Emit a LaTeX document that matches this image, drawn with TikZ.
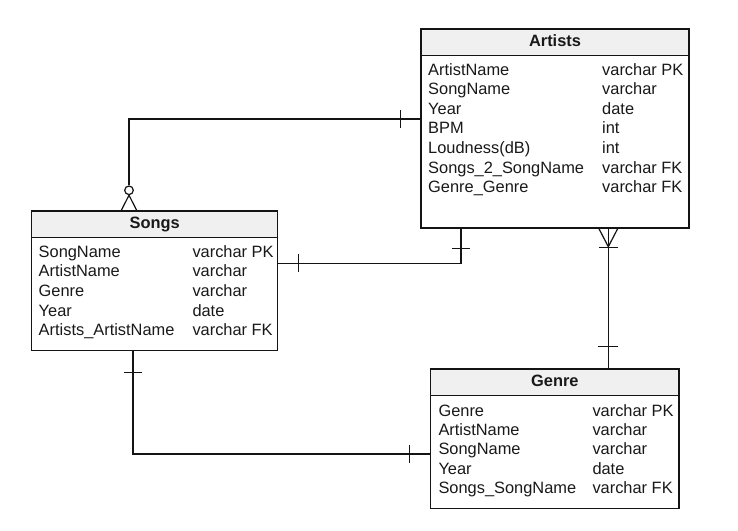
\documentclass[tikz,border=0pt]{standalone}
\usepackage{fontspec}
\setmainfont{Liberation Sans}
\usetikzlibrary{calc}
\definecolor{hdr}{RGB}{240,240,240}
\definecolor{ln}{RGB}{20,20,20}
\definecolor{txt}{RGB}{25,25,25}
\begin{document}
\begin{tikzpicture}[x=1pt,y=-1pt,
  tbl/.style={draw=ln, line width=1.3pt, rectangle, inner sep=0pt,
    path picture={
      \fill[hdr] (path picture bounding box.north west) rectangle ([yshift=-#1]path picture bounding box.north east);
      \draw[ln, line width=1.3pt] ([yshift=-#1]path picture bounding box.north west) -- ([yshift=-#1]path picture bounding box.north east);
    }},
  hdrtext/.style={font=\fontsize{16.4}{19.6}\selectfont\bfseries, anchor=base, inner sep=0pt, text=txt},
  fld/.style={font=\fontsize{16.4}{19.6}\selectfont, anchor=base west, inner sep=0pt, text=txt},
  conn/.style={draw=ln, line width=1.2pt},
]
\useasboundingbox[fill=white] (0,0) rectangle (738,530);

% tables
\node[tbl=26.5pt, minimum width=268pt, minimum height=199pt] (artists) at (555,128.6) {};
\node[tbl=26.7pt, minimum width=246pt, minimum height=139.5pt] (songs) at (154.7,280.75) {};
\node[tbl=26.7pt, minimum width=248.3pt, minimum height=139.3pt] (genre) at (554.85,438.65) {};

% Artists
\node[hdrtext] (ah) at (555,46.2) {Artists};
\node[fld] (af1) at (428,75) {ArtistName};        \node[fld] (at1) at (602,75) {varchar PK};
\node[fld] (af2) at (428,94.6) {SongName};        \node[fld] (at2) at (602,94.6) {varchar};
\node[fld] (af3) at (428,114.2) {Year};           \node[fld] (at3) at (602,114.2) {date};
\node[fld] (af4) at (428,133.8) {BPM};            \node[fld] (at4) at (602,133.8) {int};
\node[fld] (af5) at (428,153.4) {Loudness(dB)};   \node[fld] (at5) at (602,153.4) {int};
\node[fld] (af6) at (428,173) {Songs\_2\_SongName}; \node[fld] (at6) at (602,173) {varchar FK};
\node[fld] (af7) at (428,192.6) {Genre\_Genre};   \node[fld] (at7) at (602,192.6) {varchar FK};

% Songs
\node[hdrtext] (sh) at (154.7,228.3) {Songs};
\node[fld] (sf1) at (38.5,257.3) {SongName};      \node[fld] (st1) at (192.3,257.3) {varchar PK};
\node[fld] (sf2) at (38.5,276.9) {ArtistName};    \node[fld] (st2) at (192.3,276.9) {varchar};
\node[fld] (sf3) at (38.5,296.5) {Genre};         \node[fld] (st3) at (192.3,296.5) {varchar};
\node[fld] (sf4) at (38.5,316.1) {Year};          \node[fld] (st4) at (192.3,316.1) {date};
\node[fld] (sf5) at (38.5,335.7) {Artists\_ArtistName}; \node[fld] (st5) at (192.3,335.7) {varchar FK};

% Genre
\node[hdrtext] (gh) at (554.85,386.7) {Genre};
\node[fld] (gf1) at (438.3,416) {Genre};          \node[fld] (gt1) at (592.3,416) {varchar PK};
\node[fld] (gf2) at (438.3,435.4) {ArtistName};   \node[fld] (gt2) at (592.3,435.4) {varchar};
\node[fld] (gf3) at (438.3,454.8) {SongName};     \node[fld] (gt3) at (592.3,454.8) {varchar};
\node[fld] (gf4) at (438.3,474.2) {Year};         \node[fld] (gt4) at (592.3,474.2) {date};
\node[fld] (gf5) at (438.3,493.6) {Songs\_SongName}; \node[fld] (gt5) at (592.3,493.6) {varchar FK};

% connector 1: Artists -> Songs (zero to many)
\coordinate (bend1) at (129,119);
\node[circle, draw=ln, line width=1.2pt, fill=white, minimum size=8.6pt, inner sep=0pt] (zc) at (129,190.3) {};
\draw[conn] (bend1 -| artists.west) -- (bend1) -- (zc.north);
\draw[conn] ($(bend1 -| artists.west)+(-20,-9)$) -- ++(0,18);
\draw[conn] ($(zc.south |- songs.north)+(-7.7,0)$) -- (zc.south) -- ($(zc.south |- songs.north)+(7.7,0)$);

% connector 2: Songs -> Artists (one to one)
\coordinate (bend2) at (461,263.3);
\draw[conn] (bend2 -| songs.east) -- (bend2) -- (bend2 |- artists.south);
\draw[conn] ($(bend2 -| songs.east)+(20.5,-9)$) -- ++(0,18);
\draw[conn] ($(bend2 |- artists.south)+(-9,20)$) -- ++(18,0);

% connector 3: Artists (many) -> Genre (one)
\coordinate (c3) at (608.3,0);
\draw[conn] (c3 |- artists.south) -- (c3 |- genre.north);
\draw[conn] ($(c3 |- artists.south)+(-9.3,0)$) -- ($(c3 |- artists.south)+(0,18)$) -- ($(c3 |- artists.south)+(9.3,0)$);
\draw[conn] ($(c3 |- artists.south)+(-9.7,19)$) -- ++(19.4,0);
\draw[conn] ($(c3 |- genre.north)+(-10,-21.7)$) -- ++(20,0);

% connector 4: Songs -> Genre (one to one)
\coordinate (bend4) at (133,454);
\draw[conn] (bend4 |- songs.south) -- (bend4) -- (bend4 -| genre.west);
\draw[conn] ($(bend4 |- songs.south)+(-9,21)$) -- ++(18,0);
\draw[conn] ($(bend4 -| genre.west)+(-20.7,-9)$) -- ++(0,18);
\end{tikzpicture}
\end{document}
